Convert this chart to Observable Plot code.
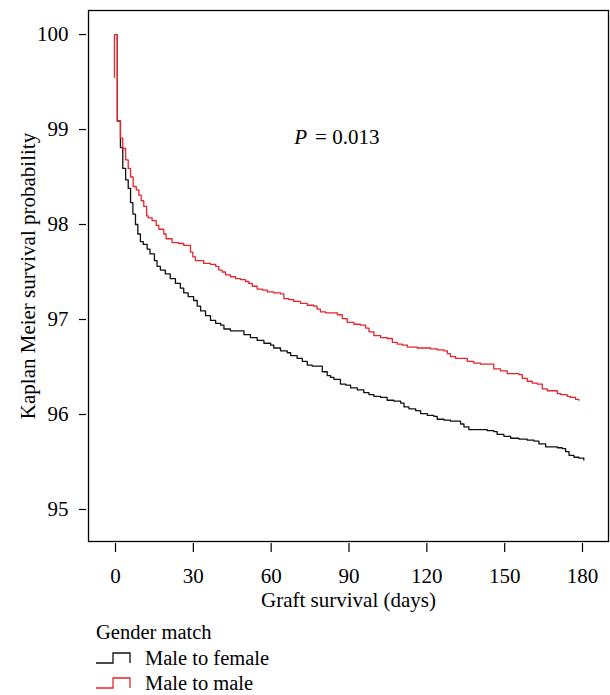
<!DOCTYPE html>
<html>
<head>
<meta charset="utf-8">
<script src="https://cdn.jsdelivr.net/npm/d3@7"></script>
<script src="https://cdn.jsdelivr.net/npm/@observablehq/plot@0.6"></script>
<style>
  html, body { margin: 0; padding: 0; background: white; }
  #wrap { width: 610px; font-family: "Liberation Serif", "DejaVu Serif", serif; color: black; }
  #legend { position: relative; width: 610px; height: 80px; font-size: 20.5px; }
  #legend .title { position: absolute; left: 96px; top: 4px; line-height: 26px; }
  #legend .item { position: absolute; left: 96px; height: 26px; line-height: 26px; display: flex; align-items: center; }
  #legend .item svg { margin-right: 14px; }
</style>
</head>
<body>
<div id="wrap">
  <div id="chart"></div>
  <div id="legend"></div>
</div>
<script>
// ---- data ----
const seriesNames = ["Male to female", "Male to male"];
const seriesColors = ["#111111", "#e8232b"];
const legendTitle = "Gender match";
const xTitle = "Graft survival (days)";
const yTitle = "Kaplan Meier survival probability";
const xTicks = [0, 30, 60, 90, 120, 150, 180];
const yTicks = [95, 96, 97, 98, 99, 100];
const pLabel = "P";
const pValueText = "= 0.013";
const pAnchorDay = 75;
const pAnchorSurv = 98.92;

// Male to female (black)
const mfDays = [0.7, 0.7, 1.9, 2.8, 3.9, 4.9, 5.8, 6.7, 7.7, 8.6, 9.6, 10.7, 12.2, 13.3, 15.0, 16.0, 17.3, 19.2, 21.1, 23.1, 25.0, 26.3, 28.0, 30.1, 31.5, 32.8, 34.7, 36.6, 38.6, 40.5, 41.8, 44.3, 49.5, 52.0, 54.6, 57.2, 59.8, 61.0, 63.6, 66.2, 67.5, 70.0, 72.0, 73.9, 75.8, 79.7, 81.6, 82.9, 84.2, 86.7, 88.7, 90.6, 93.2, 95.7, 97.7, 99.6, 102.2, 104.7, 107.3, 109.9, 111.2, 113.1, 115.7, 117.6, 120.2, 122.7, 124.0, 126.6, 129.1, 133.0, 134.3, 136.2, 143.3, 145.8, 147.1, 149.7, 152.3, 155.5, 158.7, 161.3, 163.2, 165.8, 170.3, 172.2, 173.5, 174.8, 176.7, 178.6, 180.5];
const mfSurv = [100, 99.09, 98.81, 98.59, 98.47, 98.38, 98.23, 98.11, 98.00, 97.90, 97.82, 97.79, 97.74, 97.69, 97.62, 97.56, 97.52, 97.48, 97.43, 97.38, 97.33, 97.28, 97.24, 97.20, 97.14, 97.09, 97.04, 96.99, 96.96, 96.94, 96.90, 96.88, 96.84, 96.81, 96.78, 96.75, 96.73, 96.70, 96.67, 96.65, 96.62, 96.59, 96.56, 96.52, 96.51, 96.45, 96.41, 96.39, 96.37, 96.32, 96.31, 96.28, 96.26, 96.23, 96.21, 96.19, 96.18, 96.15, 96.14, 96.12, 96.08, 96.06, 96.04, 96.01, 95.99, 95.98, 95.95, 95.94, 95.93, 95.90, 95.87, 95.84, 95.83, 95.82, 95.79, 95.77, 95.75, 95.74, 95.73, 95.72, 95.69, 95.66, 95.65, 95.64, 95.61, 95.57, 95.55, 95.54, 95.52];

// Male to male (red)
const mmDays = [-0.4, -0.4, 0.7, 1.9, 2.8, 3.9, 4.9, 5.8, 6.8, 8.0, 9.0, 9.9, 10.9, 12.0, 12.6, 14.1, 15.7, 16.7, 18.6, 19.5, 21.8, 24.4, 26.3, 28.9, 29.8, 30.8, 34.0, 36.6, 38.6, 39.8, 41.1, 42.4, 44.3, 46.3, 48.2, 50.1, 51.4, 52.7, 54.6, 56.6, 58.5, 61.0, 63.6, 64.9, 66.8, 68.7, 71.3, 73.9, 76.4, 77.7, 79.0, 81.0, 85.5, 87.4, 89.3, 91.9, 94.4, 96.4, 97.7, 99.6, 102.2, 104.7, 106.7, 108.6, 110.5, 112.5, 116.3, 121.4, 124.0, 126.6, 127.9, 129.1, 131.1, 135.6, 138.1, 140.7, 145.8, 148.4, 151.0, 155.5, 156.8, 158.7, 160.6, 162.6, 164.5, 166.4, 170.3, 171.6, 174.1, 175.4, 177.3, 178.6];
const mmSurv = [99.55, 100, 99.09, 98.91, 98.80, 98.68, 98.59, 98.50, 98.40, 98.365, 98.31, 98.25, 98.19, 98.09, 98.07, 98.04, 97.99, 97.95, 97.90, 97.85, 97.81, 97.80, 97.78, 97.71, 97.66, 97.62, 97.59, 97.58, 97.56, 97.52, 97.50, 97.47, 97.45, 97.43, 97.42, 97.40, 97.38, 97.35, 97.32, 97.31, 97.29, 97.28, 97.27, 97.22, 97.21, 97.19, 97.17, 97.15, 97.14, 97.11, 97.08, 97.07, 97.05, 97.01, 96.97, 96.95, 96.94, 96.91, 96.87, 96.83, 96.81, 96.80, 96.76, 96.74, 96.73, 96.71, 96.70, 96.69, 96.68, 96.67, 96.64, 96.61, 96.59, 96.56, 96.54, 96.53, 96.48, 96.46, 96.43, 96.42, 96.38, 96.35, 96.33, 96.32, 96.27, 96.25, 96.22, 96.21, 96.19, 96.18, 96.16, 96.15];

// ---- build table ----
const rows = [];
mfDays.forEach((d, i) => rows.push({group: seriesNames[0], day: d, surv: mfSurv[i]}));
mmDays.forEach((d, i) => rows.push({group: seriesNames[1], day: d, surv: mmSurv[i]}));

const font = "Liberation Serif";
const fs = 21;
const chart = Plot.plot({
  width: 610,
  height: 615,
  marginLeft: 88,
  marginRight: 2,
  marginTop: 10,
  marginBottom: 74,
  style: {fontFamily: font, fontSize: fs + "px", color: "black", background: "white", overflow: "visible"},
  x: {domain: [-10.41, 190.02]},
  y: {domain: [94.663, 100.253]},
  color: {domain: seriesNames, range: seriesColors},
  marks: [
    Plot.frame({stroke: "black", strokeWidth: 1.3}),
    Plot.axisY(yTicks, {tickSize: 7, dx: -2, tickPadding: 11, label: null, tickFormat: d => String(d), fontSize: fs, strokeWidth: 1.2}),
    Plot.axisX(xTicks, {tickSize: 9, dy: 2, tickPadding: 16, label: null, tickFormat: d => String(d), fontSize: fs, strokeWidth: 1.2}),
    Plot.text([xTitle], {frameAnchor: "bottom", textAnchor: "middle", dy: 59, lineAnchor: "middle", fontSize: fs, text: d => d}),
    Plot.text([yTitle], {frameAnchor: "left", textAnchor: "middle", rotate: -90, dx: -60, lineAnchor: "middle", fontSize: fs, text: d => d}),
    Plot.line(rows, {x: "day", y: "surv", z: "group", stroke: "group", curve: "step-after", strokeWidth: 1.3}),
    Plot.text([{day: pAnchorDay, surv: pAnchorSurv}], {x: "day", y: "surv", text: () => pLabel, textAnchor: "end", dx: -3, fontStyle: "italic", fontSize: fs}),
    Plot.text([{day: pAnchorDay, surv: pAnchorSurv}], {x: "day", y: "surv", text: () => pValueText, textAnchor: "start", dx: 5, fontSize: fs})
  ]
});
document.getElementById("chart").appendChild(chart);

// ---- legend ----
const legend = d3.select("#legend");
legend.append("div").attr("class", "title").text(legendTitle);
seriesNames.forEach((name, i) => {
  const item = legend.append("div").attr("class", "item").style("top", (30 + i * 25) + "px");
  const s = item.append("svg").attr("width", 35).attr("height", 14);
  s.append("path").attr("d", "M0,12 H17 V2 H34 V12").attr("fill", "none")
    .attr("stroke", seriesColors[i]).attr("stroke-width", 1.3);
  item.append("span").text(name);
});
</script>
</body>
</html>
